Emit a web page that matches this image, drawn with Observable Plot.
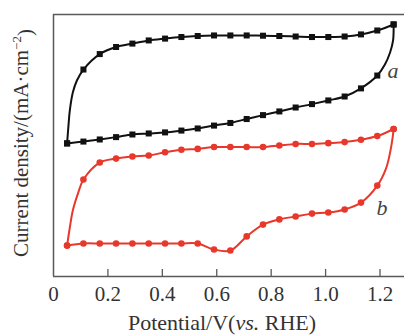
<!DOCTYPE html>
<html><head><meta charset="utf-8">
<script src="https://cdn.jsdelivr.net/npm/d3@7"></script>
<script src="https://cdn.jsdelivr.net/npm/@observablehq/plot@0.6"></script>
<style>
body{margin:0;background:#fff;}
#chart svg{display:block;}
</style></head><body><div id="chart"></div>
<script>
// Potentials (V vs. RHE) where markers are drawn
const potentials = [0.05,0.11,0.17,0.23,0.29,0.35,0.41,0.47,0.53,0.59,0.65,0.71,0.77,0.83,0.89,0.95,1.01,1.07,1.13,1.19,1.25];
// Curve a (black squares) current density, arbitrary mA·cm^-2 units
const aUpper = [5.08,7.90,8.49,8.76,8.89,9.01,9.08,9.14,9.18,9.20,9.20,9.20,9.19,9.18,9.16,9.14,9.14,9.16,9.24,9.39,9.62];
const aLower = [5.08,5.15,5.23,5.32,5.42,5.46,5.50,5.57,5.65,5.76,5.86,6.01,6.16,6.30,6.45,6.58,6.72,6.87,7.18,7.67,9.62];
const aRiseV = [0.055,0.060,0.071,0.086];
const aRiseJ = [5.76,6.34,7.02,7.48];
const aTurnV = [1.248,1.237,1.218];
const aTurnJ = [9.01,8.55,8.09];
// Curve b (red circles)
const bLower = [1.18,1.26,1.26,1.26,1.26,1.26,1.26,1.26,1.26,1.03,0.99,1.53,1.98,2.18,2.29,2.40,2.44,2.56,2.82,3.47,5.63];
const bUpper = [1.18,3.70,4.35,4.50,4.58,4.62,4.74,4.84,4.87,4.94,4.94,4.94,4.94,5.00,5.06,5.06,5.09,5.13,5.22,5.36,5.63];
const bTurnV = [1.222,1.237,1.246];
const bTurnJ = [4.12,4.73,5.27];
const bDropV = [0.090,0.071,0.060];
const bDropJ = [3.17,2.52,1.87];
// Axis ticks and curve labels
const xTicks = [0,0.2,0.4,0.6,0.8,1.0,1.2];
const curveNames = ["a","b"];
const curveColors = ["#111111","#e8382b"];
const labelV = [1.248,1.207];
const labelJ = [7.86,2.63];

const n = potentials.length;
const rows = [];
const push = (curve, seg, V, J) => rows.push({curve, seg, V, J});
// a, segment 1: bottom-left up and along the top
push("a","a1",potentials[0],aUpper[0]);
aRiseV.forEach((v,i)=>push("a","a1",v,aRiseJ[i]));
for (let i=1;i<n;i++) push("a","a1",potentials[i],aUpper[i]);
// a, segment 2: top-right down and back along the bottom
push("a","a2",potentials[n-1],aLower[n-1]);
aTurnV.forEach((v,i)=>push("a","a2",v,aTurnJ[i]));
for (let i=n-2;i>=0;i--) push("a","a2",potentials[i],aLower[i]);
// b, segment 1: along the bottom and up the right side
for (let i=0;i<n-1;i++) push("b","b1",potentials[i],bLower[i]);
bTurnV.forEach((v,i)=>push("b","b1",v,bTurnJ[i]));
push("b","b1",potentials[n-1],bLower[n-1]);
// b, segment 2: back along the top and down the left side
for (let i=n-1;i>=1;i--) push("b","b2",potentials[i],bUpper[i]);
bDropV.forEach((v,i)=>push("b","b2",v,bDropJ[i]));
push("b","b2",potentials[0],bUpper[0]);

const aMarks = [], bMarks = [];
potentials.forEach((v,i)=>{
  aMarks.push({V:v,J:aUpper[i]}, {V:v,J:aLower[i]});
  bMarks.push({V:v,J:bLower[i]}, {V:v,J:bUpper[i]});
});
const labels = curveNames.map((c,i)=>({name:c,V:labelV[i],J:labelJ[i]}));

const serif = "'Liberation Serif','Times New Roman',serif";
const frameColor = "#5a5a5a";

const plot = Plot.plot({
  width: 404,
  height: 335,
  marginLeft: 53,
  marginRight: 0,
  marginTop: 14,
  marginBottom: 59,
  style: {fontFamily: serif, fontSize: "21px", color: "#333", background: "#fff"},
  x: {domain: [0, 1.29]},
  y: {domain: [0, 10], axis: null},
  color: {domain: curveNames, range: curveColors},
  marks: [
    Plot.ruleX([0], {stroke: frameColor, strokeWidth: 1.5}),
    Plot.ruleY([0, 10], {stroke: frameColor, strokeWidth: 1.5}),
    Plot.ruleX(xTicks.filter(d => d > 0), {x: d => d, y1: 0, y2: 0.27, stroke: frameColor, strokeWidth: 1.3}),
    Plot.axisX(xTicks, {tickSize: 0, tickPadding: 10, fontSize: 21, fill: "#333",
      tickFormat: d => d === 0 ? "0" : d.toFixed(1), label: null}),
    Plot.line(rows, {x: "V", y: "J", z: "seg", stroke: "curve", strokeWidth: 2, curve: "catmull-rom"}),
    Plot.dot(aMarks, {x: "V", y: "J", symbol: "square", r: 3.4, fill: curveColors[0], stroke: "none"}),
    Plot.dot(bMarks, {x: "V", y: "J", symbol: "circle", r: 3.3, fill: curveColors[1], stroke: "none"}),
    Plot.text(labels, {x: "V", y: "J", text: "name", fontStyle: "italic", fontSize: 22, fill: "#444"})
  ]
});

const svg = d3.select(plot);
// x-axis title
const xt = svg.append("text")
  .attr("x", 222).attr("y", 330)
  .attr("text-anchor", "middle")
  .attr("fill", "#333")
  .style("font-family", serif).style("font-size", "22px");
xt.append("tspan").text("Potential/V(");
xt.append("tspan").attr("font-style", "italic").text("vs.");
xt.append("tspan").text(" RHE)");
// y-axis title
const yt = svg.append("text")
  .attr("transform", "translate(28,143) rotate(-90)")
  .attr("text-anchor", "middle")
  .attr("fill", "#333")
  .style("font-family", serif).style("font-size", "21px");
yt.append("tspan").text("Current density/(mA·cm");
yt.append("tspan").attr("dy", "-0.55em").style("font-size", "13px").text("−2");
yt.append("tspan").attr("dy", "0.55em").text(")");

document.getElementById("chart").append(plot);
</script>
</body></html>
